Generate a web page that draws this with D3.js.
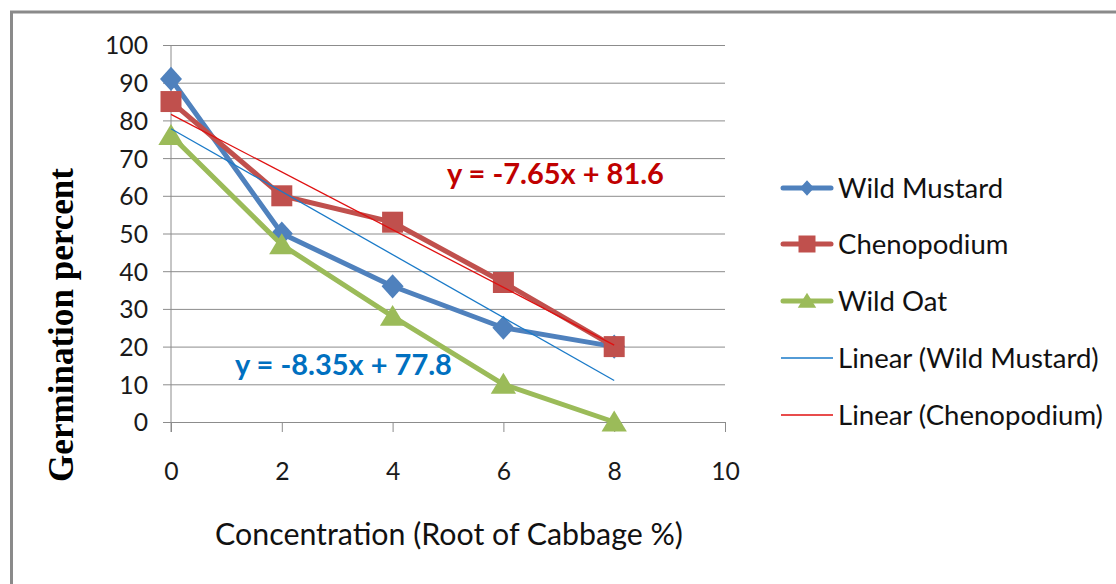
<!DOCTYPE html>
<html><head><meta charset="utf-8">
<script src="https://cdn.jsdelivr.net/npm/d3@7"></script>
<style>body{margin:0;background:#fff}svg{display:block}</style>
</head><body>
<svg id="c" width="1116" height="584"></svg>
<script>
const concentrations = [0, 2, 4, 6, 8];
const wildMustard = [91, 50, 36, 25, 20];
const chenopodium = [85, 60, 53, 37, 20];
const wildOat = [76, 47, 28, 10, 0];
const xTicks = [0, 2, 4, 6, 8, 10];
const yTicks = [0, 10, 20, 30, 40, 50, 60, 70, 80, 90, 100];
const trendMustard = {slope: -8.35, intercept: 77.8, label: "y = -8.35x + 77.8"};
const trendCheno = {slope: -7.65, intercept: 81.6, label: "y = -7.65x + 81.6"};
const legendLabels = ["Wild Mustard", "Chenopodium", "Wild Oat", "Linear (Wild Mustard)", "Linear (Chenopodium)"];
const xTitle = "Concentration (Root of Cabbage %)";
const yTitle = "Germination percent";

const svg = d3.select("#c");
const FONT = "Lato, 'Open Sans', sans-serif";
const x = d3.scaleLinear().domain([0, 10]).range([171, 725]);
const y = d3.scaleLinear().domain([0, 100]).range([422, 45]);

function fit(sel, target) {
  sel.attr("font-size", 100);
  const w = sel.node().getComputedTextLength();
  sel.attr("font-size", 100 * target / w);
  return 100 * target / w;
}

// outer border
svg.append("path").attr("d", "M11.5,584 V12 H1116").attr("fill", "none")
  .attr("stroke", "#8a8a8a").attr("stroke-width", 3);

// y axis with gridlines
const yAxis = svg.append("g").attr("transform", "translate(171,0)")
  .call(d3.axisLeft(y).tickValues(yTicks).tickSize(0).tickPadding(23));
yAxis.select(".domain").remove();
yAxis.selectAll(".tick line").attr("x1", -8).attr("x2", 725 - 171)
  .attr("stroke", "#8c8c8c").attr("stroke-width", 1);
yAxis.selectAll(".tick text").attr("font-family", FONT).attr("fill", "#1a1a1a").attr("dy", "0.36em");
const ySize = fit(yAxis.selectAll(".tick text").filter(d => d === 100), 43);
yAxis.selectAll(".tick text").attr("font-size", ySize);

// x axis
const xAxis = svg.append("g").attr("transform", "translate(0,422)")
  .call(d3.axisBottom(x).tickValues(xTicks).tickSize(10).tickPadding(30));
xAxis.select(".domain").remove();
xAxis.selectAll(".tick line").attr("stroke", "#8c8c8c");
xAxis.selectAll(".tick text").attr("font-family", FONT).attr("fill", "#1a1a1a")
  .attr("font-size", ySize).attr("dy", "0.71em");
// vertical axis line
svg.append("line").attr("x1", x(0)).attr("x2", x(0)).attr("y1", y(100)).attr("y2", 432)
  .attr("stroke", "#8c8c8c");

// series
const series = [
  {vals: wildMustard, color: "#4F81BD", shape: "diamond"},
  {vals: chenopodium, color: "#C0504D", shape: "square"},
  {vals: wildOat, color: "#9BBB59", shape: "triangle"}
];
function marker(shape, s) {
  if (shape === "diamond") return `M0,${-s*1.1}L${s},0L0,${s*1.1}L${-s},0Z`;
  if (shape === "square") return `M${-s},${-s}H${s}V${s}H${-s}Z`;
  const h = s * 1.9;
  return `M0,${-h*0.55}L${s*1.15},${h*0.45}L${-s*1.15},${h*0.45}Z`;
}
const line = d3.line().x((d, i) => x(concentrations[i])).y(d => y(d));
series.forEach(s => {
  svg.append("path").attr("d", line(s.vals)).attr("fill", "none")
    .attr("stroke", s.color).attr("stroke-width", 5).attr("stroke-linejoin", "round").attr("stroke-linecap", "round");
  svg.selectAll(null).data(s.vals).enter().append("path")
    .attr("d", marker(s.shape, s.shape === "square" ? 10.5 : 11))
    .attr("transform", (d, i) => `translate(${x(concentrations[i])},${y(d)})`)
    .attr("fill", s.color);
});

// trendlines
const trends = [
  {t: trendMustard, color: "#1A7AC8", textColor: "#0070C0", tx: 235, ty: 375},
  {t: trendCheno, color: "#E01010", textColor: "#C00000", tx: 447, ty: 184}
];
trends.forEach(tr => {
  const x0 = concentrations[0], x1 = concentrations[concentrations.length - 1];
  svg.append("line").attr("x1", x(x0)).attr("y1", y(tr.t.intercept + tr.t.slope * x0))
    .attr("x2", x(x1)).attr("y2", y(tr.t.intercept + tr.t.slope * x1))
    .attr("stroke", tr.color).attr("stroke-width", 1.3);
  const t = svg.append("text").attr("x", tr.tx).attr("y", tr.ty).attr("fill", tr.textColor)
    .attr("font-family", FONT).attr("font-weight", "bold").text(tr.t.label);
  fit(t, 217);
});

// legend
const legendY = [188, 244, 301, 358, 415];
const legItems = [
  {color: "#4F81BD", shape: "diamond", w: 5, ms: 7},
  {color: "#C0504D", shape: "square", w: 5, ms: 8.5},
  {color: "#9BBB59", shape: "triangle", w: 5, ms: 8},
  {color: "#1A7AC8", shape: null, w: 1.5},
  {color: "#E01010", shape: null, w: 1.5}
];
const lg = svg.append("g");
legItems.forEach((it, i) => {
  const yy = legendY[i];
  lg.append("line").attr("x1", it.shape ? 783 : 781).attr("x2", it.shape ? 831 : 833)
    .attr("y1", yy).attr("y2", yy).attr("stroke", it.color).attr("stroke-width", it.w)
    .attr("stroke-linecap", it.shape ? "round" : "butt");
  if (it.shape) lg.append("path").attr("d", marker(it.shape, it.ms))
    .attr("transform", `translate(807,${yy})`).attr("fill", it.color);
});
const lt = lg.selectAll("text.lab").data(legendLabels).enter().append("text").attr("class", "lab")
  .attr("x", 838).attr("y", (d, i) => legendY[i]).attr("dy", "0.36em")
  .attr("font-family", FONT).attr("fill", "#111").text(d => d);
const lsize = fit(lt.filter((d, i) => i === 4), 265);
lt.attr("font-size", lsize);

// axis titles
const xt = svg.append("text").attr("x", 449).attr("y", 545).attr("text-anchor", "middle")
  .attr("font-family", FONT).attr("fill", "#111").text(xTitle);
fit(xt, 468);
const yt = svg.append("text").attr("transform", "translate(73,325) rotate(-90)")
  .attr("text-anchor", "middle").attr("font-family", "'Liberation Serif', 'Times New Roman', serif")
  .attr("font-weight", "bold").attr("fill", "#000").text(yTitle);
fit(yt, 314);
</script>
</body></html>
